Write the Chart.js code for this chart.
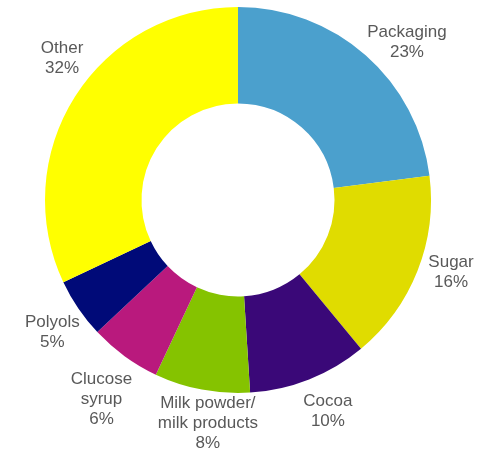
<!DOCTYPE html>
<html lang="en">
<head>
    <meta charset="UTF-8">
    <title>Cost breakdown</title>
    <script src="https://cdn.jsdelivr.net/npm/chart.js@4.4.1/dist/chart.umd.min.js"></script>
    <style>
        html, body {
            margin: 0;
            padding: 0;
            background: #ffffff;
        }
        .chart-box {
            width: 492px;
            height: 453px;
        }
    </style>
</head>
<body>

<div class="chart-box">
    <canvas id="donut" width="492" height="453"></canvas>
</div>

<script>
    // slice names (multi-line labels split on \n)
    var categories = ['Packaging', 'Sugar', 'Cocoa', 'Milk powder/\nmilk products', 'Clucose\nsyrup', 'Polyols', 'Other'];
    // share in percent
    var shares = [23, 16, 10, 8, 6, 5, 32];
    var sliceColors = ['#4ba0cd', '#e0dc00', '#3a0878', '#85c300', '#b9197d', '#000a78', '#ffff00'];

    // nudges so labels sit where the original has them (degrees / x outer radius)
    var labelAngleShift = [5.5, -2.8, -1.4, -3.1, -1.6, -1.2, 6.5];
    var labelRadius = [1.199, 1.166, 1.192, 1.166, 1.252, 1.18, 1.171];

    var outsideLabels = {
        id: 'outsideLabels',
        afterDatasetsDraw: function(chart) {
            var ctx = chart.ctx;
            var arcs = chart.getDatasetMeta(0).data;
            ctx.save();
            ctx.font = '17px "Liberation Sans", Arial, sans-serif';
            ctx.fillStyle = '#595959';
            ctx.textAlign = 'center';
            ctx.textBaseline = 'middle';
            arcs.forEach(function(arc, i) {
                var p = arc.getProps(['x', 'y', 'startAngle', 'endAngle', 'outerRadius'], true);
                var mid = (p.startAngle + p.endAngle) / 2 + labelAngleShift[i] * Math.PI / 180;
                var r = p.outerRadius * labelRadius[i];
                var cx = p.x + Math.cos(mid) * r;
                var cy = p.y + Math.sin(mid) * r;
                var lines = categories[i].split('\n');
                lines.push(shares[i] + '%');
                var lineH = 20;
                for (var k = 0; k < lines.length; k++) {
                    ctx.fillText(lines[k], cx, cy + (k - (lines.length - 1) / 2) * lineH);
                }
            });
            ctx.restore();
        }
    };

    var ctx = document.getElementById('donut').getContext('2d');
    var donut = new Chart(ctx, {
        type: 'doughnut',
        data: {
            labels: categories,
            datasets: [{
                data: shares,
                backgroundColor: sliceColors,
                borderWidth: 0,
                hoverOffset: 0
            }]
        },
        options: {
            responsive: false,
            animation: false,
            cutout: '50%',
            layout: {
                padding: { top: 7, bottom: 60, left: 45, right: 61 }
            },
            plugins: {
                legend: { display: false },
                tooltip: { enabled: false }
            }
        },
        plugins: [outsideLabels]
    });
</script>

</body>
</html>
